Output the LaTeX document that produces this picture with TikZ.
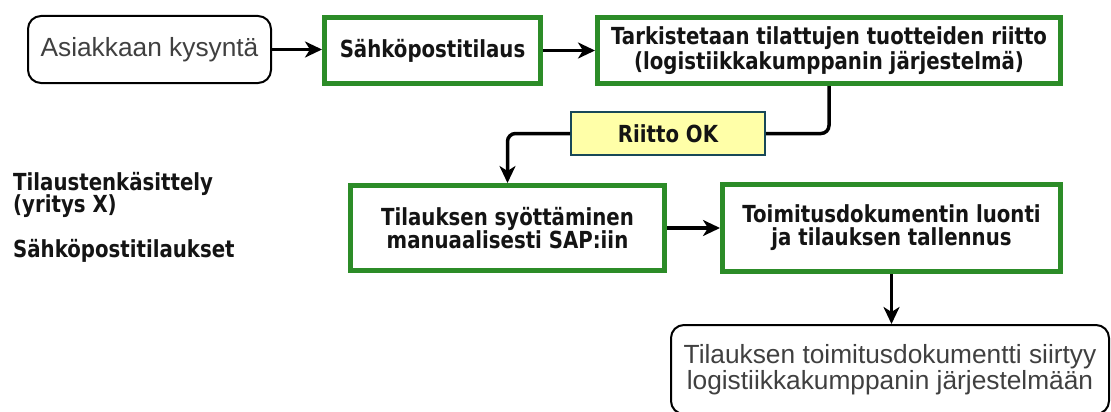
\documentclass[tikz,border=0pt]{standalone}
\usepackage{fontspec}
\setmainfont{Liberation Sans}
\newfontfamily\bfont{DejaVu Sans Bold}[FakeStretch=0.84]
\usetikzlibrary{arrows.meta}
\definecolor{gbox}{RGB}{44,140,40}
\definecolor{okborder}{RGB}{24,72,88}
\definecolor{okfill}{RGB}{255,255,168}
\definecolor{textgray}{RGB}{64,64,64}
\definecolor{boldtext}{RGB}{20,20,20}
\tikzset{
  greenbox/.style={draw=gbox, line width=5pt, fill=white, align=center, inner sep=0pt,
    font=\bfont\fontsize{23.5}{23}\selectfont, text=boldtext},
  roundbox/.style={draw=black, line width=2pt, rounded corners=13pt, fill=white, align=center,
    inner sep=0pt, font=\fontsize{26.3}{24}\selectfont, text=textgray},
  okbox/.style={draw=okborder, line width=2pt, fill=okfill, inner sep=0pt,
    font=\bfont\fontsize{23.5}{23}\selectfont, text=boldtext},
  sidelabel/.style={anchor=base west, inner sep=0pt,
    font=\bfont\fontsize{23.5}{23}\selectfont, text=boldtext},
  connline/.style={line width=3.5pt, rounded corners=8pt},
  conn/.style={connline, -{Stealth[length=17pt,width=16pt,inset=5pt]}},
}
\begin{document}
\begin{tikzpicture}[x=1pt,y=-1pt]
\useasboundingbox (0,0) rectangle (1111,412);
\node[roundbox, minimum width=243pt, minimum height=67pt] (n1) at (149.5,49.5) {Asiakkaan kysyntä};
\node[greenbox, minimum width=216pt, minimum height=66pt] (n2) at (432.5,50.5) {Sähköpostitilaus};
\node[greenbox, minimum width=463pt, minimum height=66pt] (n3) at (829,50.5) {Tarkistetaan tilattujen tuotteiden riitto\\(logistiikkakumppanin järjestelmä)};
\node[okbox, minimum width=194pt, minimum height=43pt] (ok) at (668,133.5) {Riitto OK};
\node[greenbox, minimum width=314pt, minimum height=85pt] (n4) at (507.5,228) {Tilauksen syöttäminen\\manuaalisesti SAP:iin};
\node[greenbox, minimum width=338pt, minimum height=87pt] (n5) at (891.5,228) {Toimitusdokumentin luonti\\ja tilauksen tallennus};
\node[roundbox, minimum width=438pt, minimum height=89pt] (n6) at (890,369.5) {Tilauksen toimitusdokumentti siirtyy\\logistiikkakumppanin järjestelmään};
\node[sidelabel] (lab1) at (13,190) {Tilaustenkäsittely};
\node[sidelabel] (lab2) at (13,212) {(yritys X)};
\node[sidelabel] (lab3) at (13,257) {Sähköpostitilaukset};
\draw[conn] (n1.east) -- (n2.west |- n1.east);
\draw[conn] (n2.east) -- (n3.west |- n2.east);
\draw[connline] (n3.south) |- (ok.east);
\draw[conn] (ok.west) -| (n4.north);
\draw[conn] (n4.east) -- (n5.west |- n4.east);
\draw[conn] (n5.south) -- (n6.north -| n5.south);
\end{tikzpicture}
\end{document}
